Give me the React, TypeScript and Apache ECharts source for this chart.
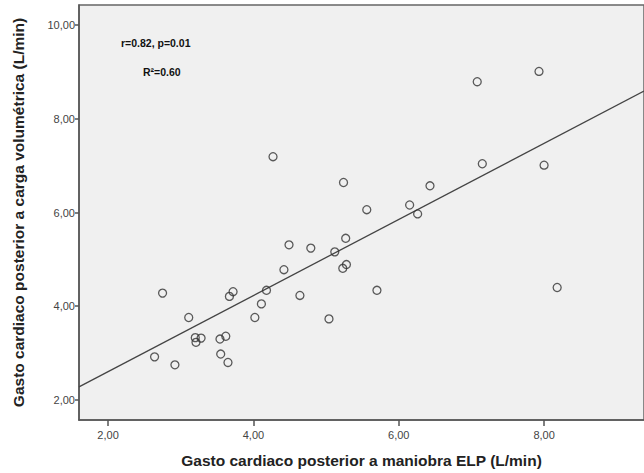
import React, { useEffect, useRef } from "react";
import * as echarts from "echarts";

const xValues = [2.64, 2.75, 2.92, 3.11, 3.2, 3.21, 3.28, 3.54, 3.62, 3.55, 3.65, 3.67, 3.72, 4.02, 4.11, 4.18, 4.27, 4.42, 4.49, 4.64, 4.79, 5.04, 5.12, 5.23, 5.28, 5.27, 5.24, 5.56, 5.7, 6.15, 6.26, 6.43, 7.08, 7.15, 7.93, 8.0, 8.18];
const yValues = [2.92, 4.28, 2.75, 3.76, 3.33, 3.23, 3.32, 3.3, 3.36, 2.98, 2.8, 4.21, 4.31, 3.76, 4.05, 4.34, 7.19, 4.78, 5.31, 4.23, 5.24, 3.73, 5.16, 4.81, 4.89, 5.45, 6.64, 6.06, 4.34, 6.16, 5.97, 6.57, 8.79, 7.04, 9.01, 7.01, 4.4];
const xTicks = [2, 4, 6, 8];
const yTicks = [2, 4, 6, 8, 10];
const fitIntercept = 0.98;
const fitSlope = 0.812;
const xRange = [1.6, 9.375];
const yRange = [1.573, 10.427];
const statLines = ["r=0.82, p=0.01", "R²=0.60"];
const xTitle = "Gasto cardiaco posterior a maniobra ELP (L/min)";
const yTitle = "Gasto cardiaco posterior a carga volumétrica (L/min)";

const fmt = (v: number) => v.toFixed(2).replace(".", ",");

export default function App() {
  const ref = useRef<HTMLDivElement>(null);
  useEffect(() => {
    document.body.style.margin = "0";
    if (!ref.current) return;
    const chart = echarts.init(ref.current, null, { renderer: "svg" });
    const points = xValues.map((x, i) => [x, yValues[i]]);
    const fitLine = xRange.map((x) => [x, fitIntercept + fitSlope * x]);
    const axisCommon = {
      axisLine: { show: true, lineStyle: { color: "#555", width: 1.5 } },
      splitLine: { show: false },
      nameTextStyle: { fontFamily: "Liberation Sans", fontWeight: "bold", fontSize: 15.5, color: "#222" },
    };
    chart.setOption({
      animation: false,
      backgroundColor: "#fff",
      grid: {
        left: 79, top: 5, right: -3, bottom: 53,
        show: true, backgroundColor: "#f0f0f0", borderColor: "#666", borderWidth: 1.5,
      },
      xAxis: {
        type: "value",
        min: xRange[0], max: xRange[1],
        ...axisCommon,
        axisTick: { show: true, length: 6, customValues: xTicks, lineStyle: { color: "#555", width: 1.5 } },
        axisLabel: { customValues: xTicks, formatter: fmt, fontFamily: "Liberation Sans", fontSize: 11, color: "#444", margin: 9 },
        name: xTitle, nameLocation: "middle", nameGap: 32,
      },
      yAxis: {
        type: "value",
        min: yRange[0], max: yRange[1],
        ...axisCommon,
        axisTick: { show: true, length: 4, customValues: yTicks, lineStyle: { color: "#555", width: 1.5 } },
        axisLabel: { customValues: yTicks, formatter: fmt, fontFamily: "Liberation Sans", fontSize: 11, color: "#444", margin: 4 },
        name: yTitle, nameLocation: "middle", nameGap: 53,
      },
      graphic: [
        { type: "text", left: 121, top: 37, style: { text: statLines[0], font: "bold 10.5px 'Liberation Sans'", fill: "#111" } },
        { type: "text", left: 143, top: 66, style: { text: statLines[1], font: "bold 10.5px 'Liberation Sans'", fill: "#111" } },
      ],
      series: [
        {
          type: "line", data: fitLine, symbol: "none",
          lineStyle: { color: "#444", width: 1.3 }, silent: true, z: 1,
        },
        {
          type: "scatter", data: points, symbol: "circle", symbolSize: 8,
          itemStyle: { color: "rgba(0,0,0,0)", borderColor: "#333", borderWidth: 1.3 }, z: 2,
        },
      ],
    });
    return () => chart.dispose();
  }, []);
  return <div ref={ref} style={{ width: 644, height: 473 }} />;
}
